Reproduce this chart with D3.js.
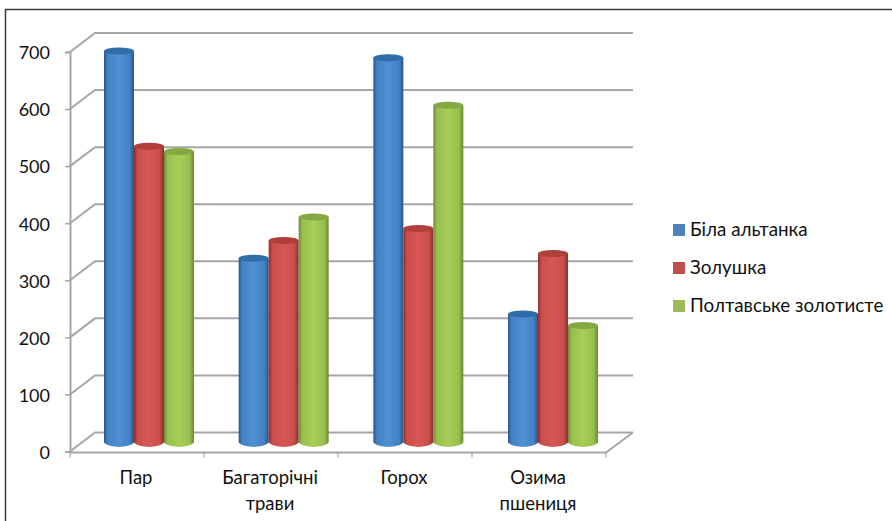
<!DOCTYPE html>
<html><head><meta charset="utf-8">
<script src="https://cdn.jsdelivr.net/npm/d3@7"></script>
<style>
html,body{margin:0;padding:0;background:#fff}
svg{display:block}
text{font-family:Lato,"Open Sans","Noto Sans",sans-serif;fill:#111}
</style></head><body>
<script>
const categories = [["Пар"], ["Багаторічні", "трави"], ["Горох"], ["Озима", "пшениця"]];
const seriesNames = ["Біла альтанка", "Золушка", "Полтавське золотисте"];
const biloAltanka = [686, 323, 674, 225];
const zolushka = [519, 354, 375, 331];
const poltavske = [510, 395, 591, 205];
const seriesValues = [biloAltanka, zolushka, poltavske];
const seriesColors = [
  {edge:"#2a5488", mid:"#4482c6", light:"#4f8fd2", top:"#2f6ca8", legend:"#4f81bd"},
  {edge:"#8a2f2c", mid:"#c94e4b", light:"#d65855", top:"#b03f3c", legend:"#c0504d"},
  {edge:"#6c8935", mid:"#98c04e", light:"#a8ce58", top:"#86a843", legend:"#9bbb59"}
];
const yTicks = [0,100,200,300,400,500,600,700];

const W = 892, H = 521;
const depthX = 25, depthY = -19;
const svg = d3.select("body").append("svg").attr("width",W).attr("height",H);

// Plot scales: y for the front plane, x across the floor of the chart
const y = d3.scaleLinear().domain([0,700]).range([451.5,52]);
const x = d3.scaleBand().domain(d3.range(categories.length)).range([70,606]);
// Cylinder groups sit on the mid-depth plane, slightly wider than the floor's front edge
const xBars = d3.scaleBand().domain(d3.range(categories.length)).range([104,642.7]);
const seriesX = d3.scaleBand().domain(d3.range(3)).range([0,90]);

// Outer frame: left and top edges run into the page border
svg.append("rect").attr("x",5.5).attr("y",9.5).attr("width",W+10).attr("height",H)
  .attr("fill","#fff").attr("stroke","#3c3c3c").attr("stroke-width",1.5);

// Cylinder shading, one horizontal gradient per series
const defs = svg.append("defs");
seriesColors.forEach((c,i)=>{
  const g = defs.append("linearGradient").attr("id","cyl"+i);
  [[0,c.edge],[.12,c.mid],[.5,c.light],[.85,c.mid],[1,c.edge]].forEach(([o,col])=>
    g.append("stop").attr("offset",o).attr("stop-color",col));
});

const grid = "#a6a6a6";
const frame = svg.append("g").attr("fill","none").attr("stroke",grid).attr("stroke-width",2);
// Back wall gridlines with the slanted side-wall segments
yTicks.forEach(t=>{
  const p = d3.path();
  p.moveTo(x.range()[0], y(t));
  p.lineTo(x.range()[0]+depthX, y(t)+depthY);
  p.lineTo(x.range()[1]+depthX+2, y(t)+depthY);
  frame.append("path").attr("d",p.toString());
});
// Floor front edge and right-hand slant
const floor = d3.path();
floor.moveTo(x.range()[0], y(0)+1);
floor.lineTo(x.range()[1], y(0)+1);
floor.lineTo(x.range()[1]+depthX+2, y(0)+depthY);
frame.append("path").attr("d",floor.toString());

// Value axis
const axis = d3.axisLeft(y).tickValues(yTicks).tickSize(5).tickPadding(6).tickFormat(d3.format("d"));
const ag = svg.append("g").attr("transform","translate(70,0)").call(axis);
ag.select(".domain").attr("stroke",grid).attr("stroke-width",2);
ag.selectAll("line").attr("stroke",grid).attr("stroke-width",1.5);
ag.selectAll("text").style("font-size","18px").attr("x",-20).attr("dy","0.38em").attr("fill","#111");

// Category tick marks under the floor
x.domain().concat([categories.length]).forEach(i=>{
  const px = i===categories.length ? x.range()[1] : x(i);
  svg.append("line").attr("x1",px).attr("x2",px).attr("y1",y(0)+1).attr("y2",y(0)+6)
    .attr("stroke",grid).attr("stroke-width",1.2);
});

// Cylinders stand midway between the front plane and the back wall
const barDy = -9;
const ry = 4.5;
categories.forEach((cat,ci)=>{
  seriesValues.forEach((vals,si)=>{
    const left = xBars(ci)+seriesX(si);
    const w = seriesX.bandwidth();
    const top = y(vals[ci])+barDy, base = y(0)+barDy;
    const g = svg.append("g");
    const p = d3.path();
    p.moveTo(left,top);
    p.lineTo(left,base);
    p.bezierCurveTo(left+w*.2,base+ry*1.3,left+w*.8,base+ry*1.3,left+w,base);
    p.lineTo(left+w,top);
    p.closePath();
    g.append("path").attr("d",p.toString()).attr("fill",`url(#cyl${si})`);
    g.append("ellipse").attr("cx",left+w/2).attr("cy",top).attr("rx",w/2).attr("ry",ry-1)
      .attr("fill",seriesColors[si].top);
  });
});

// Category labels, wrapped onto two rows where needed
categories.forEach((lines,i)=>{
  const cx = x(i)+x.bandwidth()/2-1;
  lines.forEach((l,k)=>{
    svg.append("text").attr("x",cx).attr("y",484+k*26).attr("text-anchor","middle")
      .style("font-size","18.5px").text(l);
  });
});

// Legend
const legendY = d3.scalePoint().domain(seriesNames).range([230,306]);
seriesNames.forEach((n,i)=>{
  svg.append("rect").attr("x",673).attr("y",legendY(n)-6).attr("width",12).attr("height",12)
    .attr("fill",seriesColors[i].legend);
  svg.append("text").attr("x",690).attr("y",legendY(n)+6).style("font-size","18.8px").text(n);
});
</script></body></html>
